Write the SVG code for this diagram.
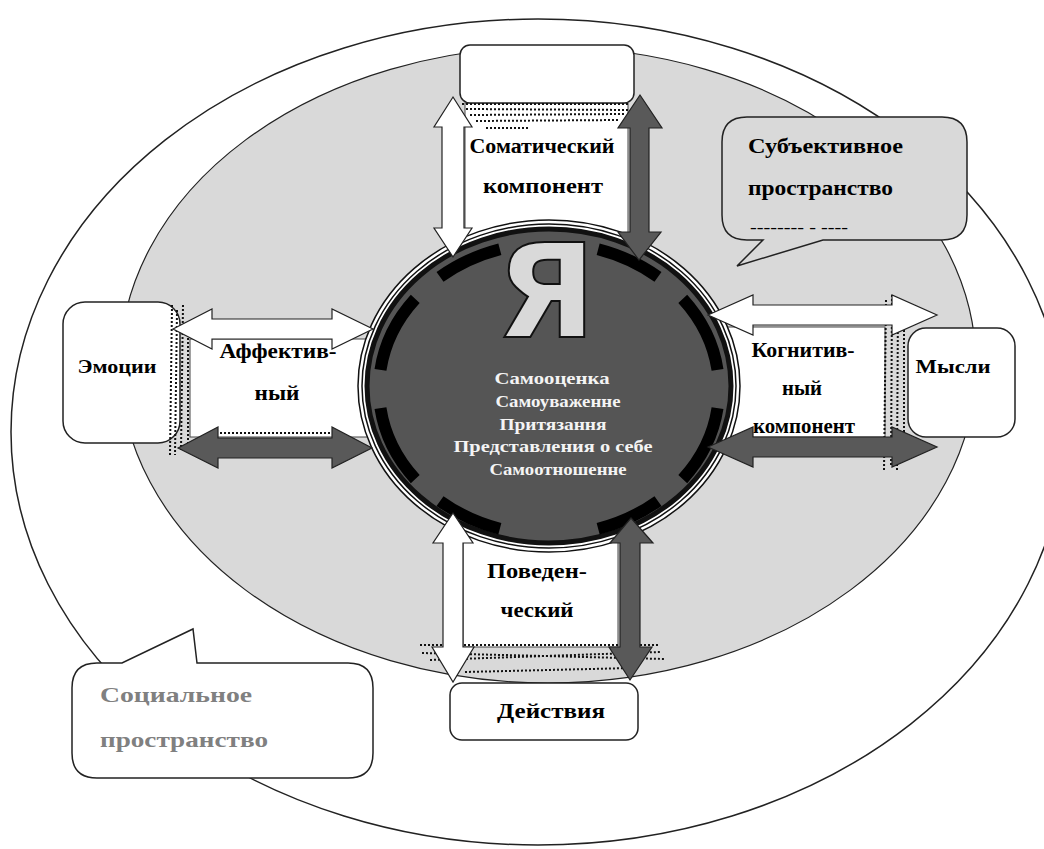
<svg xmlns="http://www.w3.org/2000/svg" width="1044" height="849" viewBox="0 0 1044 849">
<style>
.lbl{font-family:"Liberation Serif","Times New Roman",serif;font-weight:bold;fill:#000;}
.ctr{font-family:"Liberation Serif","Times New Roman",serif;font-weight:bold;fill:#f4f4f4;font-size:16px;text-anchor:middle;}
.ya{font-family:"DejaVu Sans","Liberation Sans",sans-serif;font-weight:bold;font-size:130px;text-anchor:middle;fill:#d9d9d9;stroke:#111;stroke-width:2;}
.box{fill:#fff;stroke:#222;stroke-width:1.5;}
.tb{fill:#fff;stroke:#444;stroke-width:1;}
.wa{fill:#fff;stroke:#222;stroke-width:1.2;}
.da{fill:#595959;stroke:#222;stroke-width:1.2;}
.dot{fill:none;stroke:#111;stroke-width:2;stroke-dasharray:2 2;}
</style>
<rect width="1044" height="849" fill="#fff"/>
<g id="background">
<ellipse cx="538" cy="432" rx="527" ry="413" fill="#fff" stroke="#222" stroke-width="1.5"/>
<ellipse cx="548" cy="365" rx="428" ry="318" fill="#d9d9d9" stroke="#222" stroke-width="1.2"/>
</g>
<g id="textboxes">
<rect class="tb" x="465" y="103" width="163" height="140"/>
<rect class="tb" x="190" y="339" width="190" height="98"/>
<rect class="tb" x="720" y="327" width="165" height="110"/>
<rect class="tb" x="463" y="520" width="155" height="127"/>
</g>
<g id="node-top">
<rect class="box" x="460" y="45" width="174" height="58" rx="10"/>
</g>
<g id="node-emotions">
<rect class="box" x="63" y="302" width="117" height="141" rx="22"/>
<text class="lbl" x="117" y="373" font-size="19" text-anchor="middle" textLength="79" lengthAdjust="spacingAndGlyphs">Эмоции</text>
</g>
<g id="node-thoughts">
<rect class="box" x="908" y="328" width="107" height="109" rx="18"/>
<text class="lbl" x="953" y="373" font-size="19" text-anchor="middle" textLength="75" lengthAdjust="spacingAndGlyphs">Мысли</text>
</g>
<g id="node-actions">
<rect class="box" x="450" y="683" width="188" height="57" rx="12"/>
<text class="lbl" x="551" y="718" font-size="22" text-anchor="middle" textLength="108" lengthAdjust="spacingAndGlyphs">Действия</text>
</g>
<g id="node-self">
<ellipse cx="549" cy="386" rx="191" ry="166" fill="#fff" stroke="#111" stroke-width="1.5"/>
<ellipse cx="549" cy="386" rx="187" ry="162" fill="none" stroke="#111" stroke-width="1.5"/>
<ellipse cx="549" cy="386" rx="182" ry="157" fill="#555" stroke="#111" stroke-width="5"/>
<path d="M549,243 A170,146 0 0 1 549,535 A170,146 0 0 1 549,243" fill="none" stroke="#000" stroke-width="12" pathLength="360" stroke-dasharray="24 12 29 14 29 12 24 36" stroke-dashoffset="162"/>
<text class="ya" x="546" y="337">Я</text>
<text class="ctr" x="552" y="384" textLength="115" lengthAdjust="spacingAndGlyphs">Самооценка</text>
<text class="ctr" x="558" y="407" textLength="125" lengthAdjust="spacingAndGlyphs">Самоуваженне</text>
<text class="ctr" x="553" y="430" textLength="107" lengthAdjust="spacingAndGlyphs">Притязання</text>
<text class="ctr" x="553" y="452" textLength="199" lengthAdjust="spacingAndGlyphs">Представления о себе</text>
<text class="ctr" x="558" y="475" textLength="137" lengthAdjust="spacingAndGlyphs">Самоотношенне</text>
</g>
<g id="dotted">
<line class="dot" x1="462" y1="104" x2="628" y2="104"/>
<line class="dot" x1="466" y1="109" x2="632" y2="110"/>
<line class="dot" x1="470" y1="115" x2="626" y2="114"/>
<line class="dot" x1="476" y1="121" x2="620" y2="120"/>
<line class="dot" x1="486" y1="128" x2="530" y2="128"/>
<line class="dot" x1="172" y1="305" x2="170" y2="455"/>
<line class="dot" x1="177" y1="310" x2="175" y2="455"/>
<line class="dot" x1="183" y1="305" x2="181" y2="450"/>
<line class="dot" x1="188" y1="330" x2="188" y2="450"/>
<line class="dot" x1="220" y1="433" x2="332" y2="433"/>
<line class="dot" x1="886" y1="300" x2="884" y2="470"/>
<line class="dot" x1="892" y1="295" x2="891" y2="466"/>
<line class="dot" x1="898" y1="300" x2="897" y2="470"/>
<line class="dot" x1="904" y1="330" x2="904" y2="440"/>
<line class="dot" x1="420" y1="645" x2="660" y2="645"/>
<line class="dot" x1="422" y1="653" x2="665" y2="659"/>
<line class="dot" x1="430" y1="660" x2="660" y2="652"/>
<line class="dot" x1="465" y1="672" x2="632" y2="668"/>
</g>
<g id="connectors">
<polygon class="wa" points="453,97 472,127 464,127 464,228 472,228 453,257 434,228 442,228 442,127 434,127"/>
<polygon class="da" points="640,95 662,128 649,128 649,232 661,232 639,260 618,232 630,232 630,128 618,128"/>
<polygon class="wa" points="173,329 212,309 212,319 332,319 332,309 373,329 332,349 332,339 212,339 212,349"/>
<polygon class="da" points="178,448 218,427 218,438 332,438 332,427 372,448 332,468 332,458 218,458 218,468"/>
<polygon class="wa" points="708,315 753,295 753,305 892,305 892,295 937,315 892,335 892,325 753,325 753,335"/>
<polygon class="da" points="708,447 753,427 753,437 892,437 892,427 937,447 892,467 892,457 753,457 753,467"/>
<polygon class="wa" points="453,513 473,543 463,543 463,647 474,647 453,682 432,647 443,647 443,543 433,543"/>
<polygon class="da" points="631,518 653,543 640,543 640,647 652,647 630,680 609,647 620,647 620,543 610,543"/>
</g>
<g id="labels">
<text class="lbl" x="542" y="153" font-size="20" text-anchor="middle" textLength="145" lengthAdjust="spacingAndGlyphs">Соматический</text>
<text class="lbl" x="543" y="193" font-size="20" text-anchor="middle" textLength="120" lengthAdjust="spacingAndGlyphs">компонент</text>
<text class="lbl" x="278" y="358" font-size="20" text-anchor="middle" textLength="117" lengthAdjust="spacingAndGlyphs">Аффектив-</text>
<text class="lbl" x="277" y="400" font-size="20" text-anchor="middle" textLength="45" lengthAdjust="spacingAndGlyphs">ный</text>
<text class="lbl" x="803" y="357" font-size="20" text-anchor="middle" textLength="103" lengthAdjust="spacingAndGlyphs">Когнитив-</text>
<text class="lbl" x="802" y="395" font-size="20" text-anchor="middle" textLength="40" lengthAdjust="spacingAndGlyphs">ный</text>
<text class="lbl" x="804" y="433" font-size="20" text-anchor="middle" textLength="102" lengthAdjust="spacingAndGlyphs">компонент</text>
<text class="lbl" x="537" y="578" font-size="20" text-anchor="middle" textLength="100" lengthAdjust="spacingAndGlyphs">Поведен-</text>
<text class="lbl" x="537" y="617" font-size="20" text-anchor="middle" textLength="73" lengthAdjust="spacingAndGlyphs">ческий</text>
</g>
<g id="callout-subjective">
<path d="M747,117 L942,117 Q967,117 967,142 L967,215 Q967,240 942,240 L823,240 L737,266 L763,240 L747,240 Q722,240 722,215 L722,142 Q722,117 747,117 Z" fill="#d9d9d9" stroke="#222" stroke-width="1.5"/>
<text class="lbl" x="748" y="153" font-size="20" textLength="155" lengthAdjust="spacingAndGlyphs">Субъективное</text>
<text class="lbl" x="748" y="195" font-size="20" textLength="145" lengthAdjust="spacingAndGlyphs">пространство</text>
<text class="lbl" x="750" y="232" font-size="14" textLength="98" lengthAdjust="spacingAndGlyphs">-------- - ----</text>
</g>
<g id="callout-social">
<path d="M97,663 L122,663 L193,629 L197,663 L348,663 Q373,663 373,688 L373,753 Q373,778 348,778 L97,778 Q72,778 72,753 L72,688 Q72,663 97,663 Z" fill="#fff" stroke="#222" stroke-width="1.5"/>
<text class="lbl" x="100" y="702" font-size="21" style="fill:#808080" textLength="152" lengthAdjust="spacingAndGlyphs">Социальное</text>
<text class="lbl" x="100" y="747" font-size="21" style="fill:#808080" textLength="168" lengthAdjust="spacingAndGlyphs">пространство</text>
</g>
</svg>
